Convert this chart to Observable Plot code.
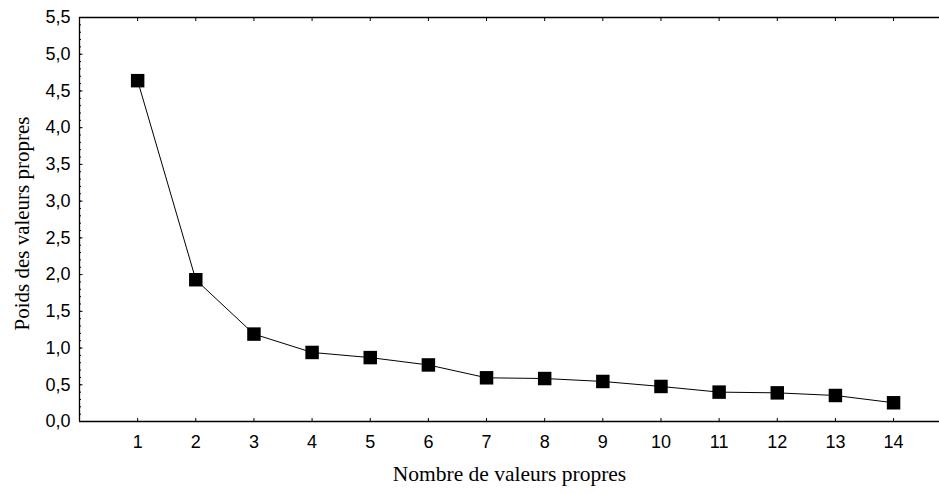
<!DOCTYPE html>
<html>
<head>
<meta charset="utf-8">
<script src="https://cdn.jsdelivr.net/npm/d3@7"></script>
<script src="https://cdn.jsdelivr.net/npm/@observablehq/plot@0.6"></script>
<style>
  html, body { margin: 0; padding: 0; background: #fff; }
  #chart svg { display: block; }
</style>
</head>
<body>
<div id="chart"></div>
<script>
// Data
const components = [1, 2, 3, 4, 5, 6, 7, 8, 9, 10, 11, 12, 13, 14];
const eigenvalues = [4.64, 1.93, 1.19, 0.94, 0.87, 0.77, 0.595, 0.585, 0.545, 0.477, 0.40, 0.39, 0.354, 0.255];
const xTicks = [1, 2, 3, 4, 5, 6, 7, 8, 9, 10, 11, 12, 13, 14];
const yTicks = [0, 0.5, 1, 1.5, 2, 2.5, 3, 3.5, 4, 4.5, 5, 5.5];
const yMinorTicks = d3.range(0, 56).map(i => i / 10);
const xTitle = "Nombre de valeurs propres";
const yTitle = "Poids des valeurs propres";

const rows = components.map((c, i) => ({ n: c, v: eigenvalues[i] }));
const fmt = d => d.toFixed(1).replace(".", ",");
const sans = "'Liberation Sans', Arial, sans-serif";
const serif = "'Liberation Serif', 'Times New Roman', serif";

const chart = Plot.plot({
  width: 939,
  height: 493,
  marginLeft: 79,
  marginRight: 0,
  marginTop: 17,
  marginBottom: 72,
  style: { fontFamily: sans, fontSize: "18px", color: "#000", background: "#fff" },
  x: { domain: [0, 14.79] },
  y: { domain: [0, 5.5] },
  marks: [
    // frame lines (left, top, bottom)
    Plot.ruleY([0, 5.5], { stroke: "#000", strokeWidth: 1.3 }),
    Plot.ruleX([0], { stroke: "#000", strokeWidth: 1.3 }),
    // inward ticks
    Plot.axisX(xTicks, { anchor: "bottom", tickSize: -3, fill: "none", label: null }),
    Plot.axisX(xTicks, { anchor: "top", tickSize: -3, fill: "none", label: null }),
    Plot.axisY(yTicks, { anchor: "left", tickSize: -3.5, fill: "none", label: null }),
    Plot.axisY(yMinorTicks, { anchor: "left", tickSize: -2, fill: "none", label: null }),
    // tick labels
    Plot.axisX(xTicks, { anchor: "bottom", tickSize: 0, tickPadding: 13.5, label: null, fontSize: 18, fontFamily: sans, fill: "#000", tickFormat: d => String(d) }),
    Plot.axisY(yTicks, { anchor: "left", tickSize: 0, tickPadding: 9, label: null, fontSize: 18, fontFamily: sans, fill: "#000", tickFormat: fmt }),
    // axis titles
    Plot.text([xTitle], { frameAnchor: "bottom", dy: 53, lineAnchor: "middle", textAnchor: "middle", text: d => d, fontFamily: serif, fontSize: 21.5, fill: "#000" }),
    Plot.text([yTitle], { frameAnchor: "left", dx: -57, dy: 4, rotate: -90, lineAnchor: "middle", textAnchor: "middle", text: d => d, fontFamily: serif, fontSize: 21, fill: "#000" }),
    // data
    Plot.line(rows, { x: "n", y: "v", stroke: "#000", strokeWidth: 1 }),
    Plot.dot(rows, { x: "n", y: "v", symbol: "square", r: 7.6, fill: "#000", stroke: "none" })
  ]
});
document.getElementById("chart").appendChild(chart);
</script>
</body>
</html>
